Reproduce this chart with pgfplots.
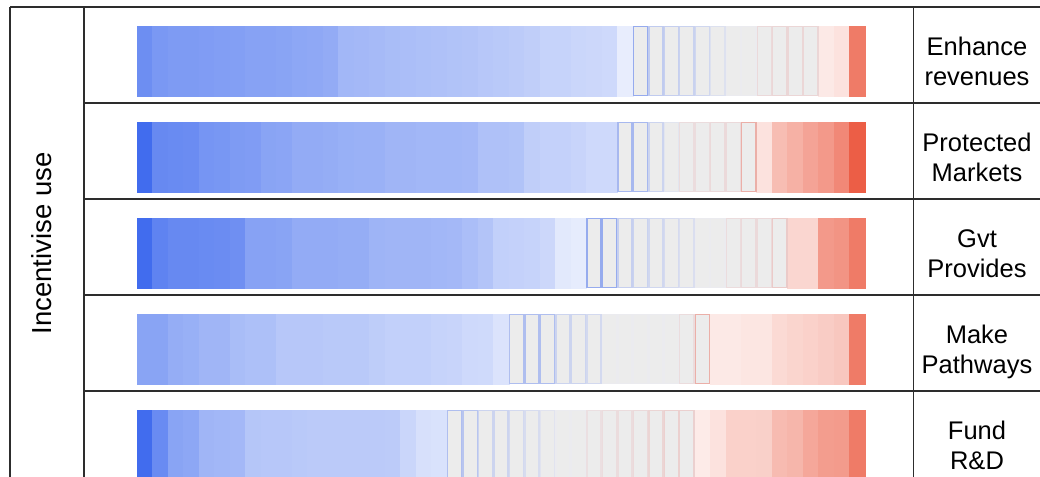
\documentclass[border=0pt]{standalone}
\usepackage{fontspec}
\setmainfont{Liberation Sans}
\usepackage{pgfplots}
\usepackage{pgfplotstable}
\pgfplotsset{compat=1.18}
\definecolor{cellgray}{RGB}{236,236,236}
\definecolor{frameline}{RGB}{45,45,45}

\pgfdeclareplotmark{cell}{%
  \pgfpathrectangle{\pgfpoint{-7.745bp}{-35bp}}{\pgfpoint{15.49bp}{70bp}}%
  \pgfusepathqfillstroke}
\pgfdeclareplotmark{gcell}{%
  \pgfpathrectangle{\pgfpoint{-7.1bp}{-34.35bp}}{\pgfpoint{14.2bp}{68.7bp}}%
  \pgfusepathqfillstroke}

% k = cell index, v = colour value (-1 blue ... 1 red), g = 1 for grey cells
\pgfplotstableread{
k v g
0 -0.77 0
1 -0.70 0
2 -0.68 0
3 -0.68 0
4 -0.67 0
5 -0.66 0
6 -0.65 0
7 -0.63 0
8 -0.63 0
9 -0.62 0
10 -0.60 0
11 -0.59 0
12 -0.57 0
13 -0.49 0
14 -0.48 0
15 -0.47 0
16 -0.45 0
17 -0.44 0
18 -0.43 0
19 -0.42 0
20 -0.41 0
21 -0.40 0
22 -0.38 0
23 -0.37 0
24 -0.35 0
25 -0.33 0
26 -0.30 0
27 -0.30 0
28 -0.28 0
29 -0.27 0
30 -0.26 0
31 -0.12 0
32 -0.50 1
33 -0.25 1
34 -0.22 1
35 -0.20 1
36 -0.16 1
37 -0.08 1
38 0.00 1
39 0.00 1
40 0.12 1
41 0.14 1
42 0.14 1
43 0.14 1
44 0.13 0
45 0.17 0
46 0.78 0
}\rowA

\pgfplotstableread{
k v g
0 -1.00 0
1 -0.80 0
2 -0.79 0
3 -0.78 0
4 -0.72 0
5 -0.71 0
6 -0.68 0
7 -0.67 0
8 -0.62 0
9 -0.61 0
10 -0.57 0
11 -0.57 0
12 -0.56 0
13 -0.54 0
14 -0.53 0
15 -0.53 0
16 -0.50 0
17 -0.50 0
18 -0.49 0
19 -0.49 0
20 -0.49 0
21 -0.48 0
22 -0.42 0
23 -0.42 0
24 -0.41 0
25 -0.33 0
26 -0.31 0
27 -0.31 0
28 -0.29 0
29 -0.26 0
30 -0.26 0
31 -0.40 1
32 -0.40 1
33 -0.18 1
34 -0.05 1
35 0.10 1
36 0.10 1
37 0.12 1
38 0.12 1
39 0.40 1
40 0.17 0
41 0.39 0
42 0.46 0
43 0.54 0
44 0.60 0
45 0.70 0
46 0.95 0
}\rowB

\pgfplotstableread{
k v g
0 -1.00 0
1 -0.84 0
2 -0.80 0
3 -0.80 0
4 -0.79 0
5 -0.78 0
6 -0.76 0
7 -0.63 0
8 -0.63 0
9 -0.62 0
10 -0.57 0
11 -0.57 0
12 -0.57 0
13 -0.56 0
14 -0.56 0
15 -0.51 0
16 -0.50 0
17 -0.50 0
18 -0.50 0
19 -0.49 0
20 -0.48 0
21 -0.44 0
22 -0.40 0
23 -0.32 0
24 -0.31 0
25 -0.30 0
26 -0.27 0
27 -0.15 0
28 -0.13 0
29 -0.50 1
30 -0.50 1
31 -0.22 1
32 -0.20 1
33 -0.16 1
34 -0.13 1
35 -0.10 1
36 0.00 1
37 0.00 1
38 0.10 1
39 0.12 1
40 0.12 1
41 0.22 1
42 0.24 0
43 0.24 0
44 0.60 0
45 0.63 0
46 0.78 0
}\rowC

\pgfplotstableread{
k v g
0 -0.62 0
1 -0.62 0
2 -0.56 0
3 -0.54 0
4 -0.50 0
5 -0.50 0
6 -0.45 0
7 -0.43 0
8 -0.43 0
9 -0.38 0
10 -0.38 0
11 -0.38 0
12 -0.37 0
13 -0.37 0
14 -0.37 0
15 -0.34 0
16 -0.32 0
17 -0.32 0
18 -0.32 0
19 -0.30 0
20 -0.29 0
21 -0.26 0
22 -0.25 0
23 -0.19 0
24 -0.35 1
25 -0.35 1
26 -0.35 1
27 -0.18 1
28 -0.18 1
29 -0.14 1
30 0.00 1
31 0.00 1
32 0.00 1
33 0.00 1
34 0.00 1
35 0.10 1
36 0.40 1
37 0.13 0
38 0.13 0
39 0.15 0
40 0.15 0
41 0.22 0
42 0.25 0
43 0.27 0
44 0.30 0
45 0.33 0
46 0.78 0
}\rowD

\pgfplotstableread{
k v g
0 -1.00 0
1 -0.79 0
2 -0.62 0
3 -0.60 0
4 -0.50 0
5 -0.49 0
6 -0.48 0
7 -0.39 0
8 -0.38 0
9 -0.38 0
10 -0.37 0
11 -0.36 0
12 -0.36 0
13 -0.36 0
14 -0.36 0
15 -0.36 0
16 -0.35 0
17 -0.28 0
18 -0.21 0
19 -0.20 0
20 -0.35 1
21 -0.30 1
22 -0.18 1
23 -0.18 1
24 -0.14 1
25 -0.12 1
26 -0.06 1
27 0.00 1
28 0.00 1
29 0.08 1
30 0.10 1
31 0.10 1
32 0.12 1
33 0.15 1
34 0.18 1
35 0.18 1
36 0.12 0
37 0.17 0
38 0.27 0
39 0.27 0
40 0.28 0
41 0.40 0
42 0.43 0
43 0.52 0
44 0.58 0
45 0.59 0
46 0.78 0
}\rowE

\begin{document}
\begin{tikzpicture}
\begin{axis}[
  at={(0,0)}, anchor=south west,
  scale only axis, width=1040bp, height=477bp,
  xmin=-8.8445, xmax=58.2957,
  ymin=0.36458, ymax=5.33333, y dir=reverse,
  hide axis, clip marker paths=true,
  colormap={bwrg}{rgb255=(65,108,238) rgb255=(235,235,239) rgb255=(235,85,60)},
  colormap={bwr}{rgb255=(65,108,238) rgb255=(255,255,255) rgb255=(235,85,60)},
  point meta min=-1, point meta max=1,
  cellA/.style={scatter, only marks, mark=cell, line width=0.3bp,
    point meta=\thisrow{v}, colormap name=bwr,
    scatter/use mapped color={draw=mapped color,fill=mapped color},
    restrict expr to domain={\thisrow{g}}{-0.5:0.5}},
  cellG/.style={scatter, only marks, mark=gcell, line width=1.3bp,
    point meta=\thisrow{v}, colormap name=bwrg,
    scatter/use mapped color={draw=mapped color,fill=cellgray},
    restrict expr to domain={\thisrow{g}}{0.5:1.5}},
]
\addplot[cellA] table[x expr=\thisrow{k}+0.5, y expr=1] {\rowA};
\addplot[cellG] table[x expr=\thisrow{k}+0.5, y expr=1] {\rowA};
\addplot[cellA] table[x expr=\thisrow{k}+0.5, y expr=2] {\rowB};
\addplot[cellG] table[x expr=\thisrow{k}+0.5, y expr=2] {\rowB};
\addplot[cellA] table[x expr=\thisrow{k}+0.5, y expr=3] {\rowC};
\addplot[cellG] table[x expr=\thisrow{k}+0.5, y expr=3] {\rowC};
\addplot[cellA] table[x expr=\thisrow{k}+0.5, y expr=4] {\rowD};
\addplot[cellG] table[x expr=\thisrow{k}+0.5, y expr=4] {\rowD};
\addplot[cellA] table[x expr=\thisrow{k}+0.5, y expr=5] {\rowE};
\addplot[cellG] table[x expr=\thisrow{k}+0.5, y expr=5] {\rowE};
\end{axis}
\begin{scope}[x=1bp, y=-1bp, shift={(0bp,477bp)}]
  \draw[frameline, line width=1.1bp] (10,7) -- (1041,7);
  \draw[frameline, line width=1.1bp] (10,7) -- (10,490);
  \draw[frameline, line width=1.1bp] (84,7) -- (84,490);
  \draw[frameline, line width=1.1bp] (913.5,7) -- (913.5,490);
  \foreach \yy in {103,199,295,391}
    \draw[frameline, line width=1.1bp] (84,\yy) -- (1041,\yy);
  \node[rotate=90, anchor=base, inner sep=0pt, font=\fontsize{27.5bp}{32bp}\selectfont] at (51,243.5) {Incentivise use};
  \begin{scope}[every node/.style={anchor=base, inner sep=0pt, font=\fontsize{25.5bp}{30bp}\selectfont}]
    \node at (977,55.5) {Enhance};   \node at (977,85.5) {revenues};
    \node at (977,151.5) {Protected}; \node at (977,181.5) {Markets};
    \node at (977,247.5) {Gvt};      \node at (977,277.5) {Provides};
    \node at (977,343.5) {Make};     \node at (977,373.5) {Pathways};
    \node at (977,439.5) {Fund};     \node at (977,469.5) {R\&D};
  \end{scope}
\end{scope}
\pgfresetboundingbox
\path[use as bounding box] (0,0) rectangle (1040bp,477bp);
\end{tikzpicture}
\end{document}
